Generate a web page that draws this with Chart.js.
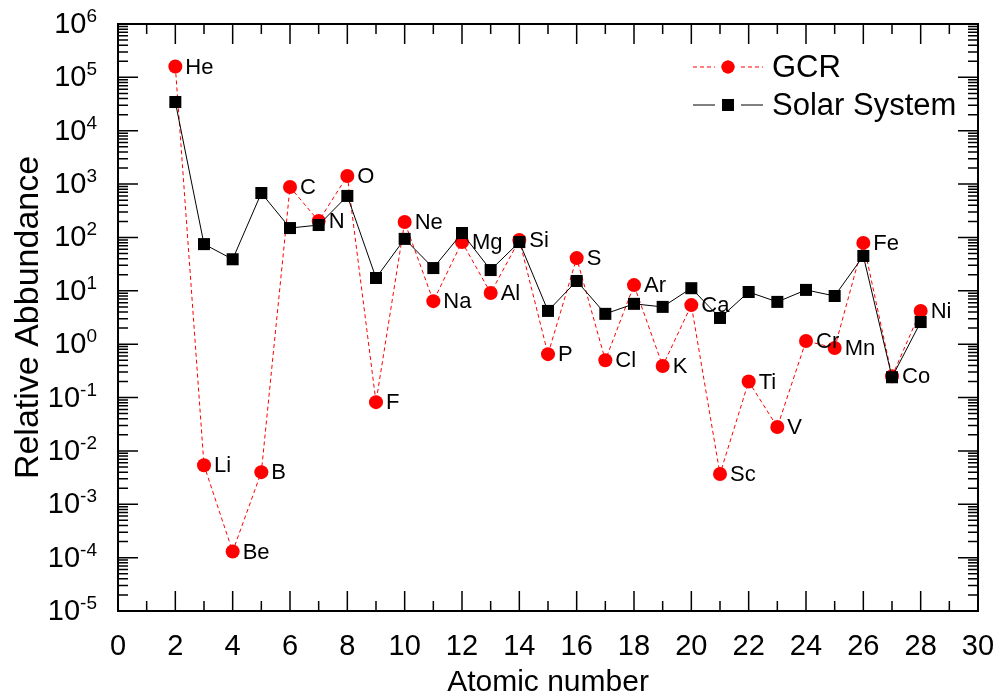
<!DOCTYPE html>
<html>
<head>
    <title>GCR vs Solar System abundance</title>
    <script src="https://cdn.jsdelivr.net/npm/chart.js"></script>
    <style>
        body { margin: 0; background: #fff; }
    </style>
</head>
<body>
    <canvas id="abundanceChart" width="998" height="700"></canvas>

    <script>
        const atomicNumbers = [2, 3, 4, 5, 6, 7, 8, 9, 10, 11, 12, 13, 14, 15, 16, 17, 18, 19, 20, 21, 22, 23, 24, 25, 26, 27, 28];
        const elements = ['He', 'Li', 'Be', 'B', 'C', 'N', 'O', 'F', 'Ne', 'Na', 'Mg', 'Al', 'Si', 'P', 'S', 'Cl', 'Ar', 'K', 'Ca', 'Sc', 'Ti', 'V', 'Cr', 'Mn', 'Fe', 'Co', 'Ni'];
        const gcrAbundance = [1.6e5, 5.4e-3, 1.3e-4, 4.0e-3, 880, 203, 1420, 0.082, 195, 6.4, 82, 9.1, 90, 0.65, 41, 0.50, 12.8, 0.39, 5.4, 3.7e-3, 0.20, 0.028, 1.15, 0.85, 79, 0.25, 4.2];
        const solarAbundance = [3.45e4, 75, 39, 680, 150, 171, 600, 17.4, 94, 26.7, 121, 24.5, 82, 4.2, 15.3, 3.7, 5.7, 5.0, 11.2, 3.1, 9.5, 6.2, 10.4, 8.0, 45, 0.24, 2.6];
        const xTickLabels = [0, 2, 4, 6, 8, 10, 12, 14, 16, 18, 20, 22, 24, 26, 28, 30];
        const yTickExponents = [-5, -4, -3, -2, -1, 0, 1, 2, 3, 4, 5, 6];

        const FONT = '"Liberation Sans", Arial, sans-serif';

        // frame, inward ticks, tick labels, titles, element names and legend
        const decorations = {
            id: 'decorations',
            afterDraw(chart) {
                const ctx = chart.ctx;
                const x = chart.scales.x;
                const y = chart.scales.y;
                const area = chart.chartArea;

                ctx.save();
                ctx.strokeStyle = '#000';
                ctx.lineWidth = 1.5;
                ctx.beginPath();
                for (let v = 0; v <= 30; v++) {
                    const px = x.getPixelForValue(v);
                    const len = v % 2 === 0 ? 20 : 10;
                    ctx.moveTo(px, area.bottom);
                    ctx.lineTo(px, area.bottom - len);
                    ctx.moveTo(px, area.top);
                    ctx.lineTo(px, area.top + len);
                }
                for (let e = -5; e <= 6; e++) {
                    for (let m = 1; m <= 9; m++) {
                        if (e === 6 && m > 1) break;
                        const py = y.getPixelForValue(m * Math.pow(10, e));
                        const len = m === 1 ? 20 : 10;
                        ctx.moveTo(area.left, py);
                        ctx.lineTo(area.left + len, py);
                        ctx.moveTo(area.right, py);
                        ctx.lineTo(area.right - len, py);
                    }
                }
                ctx.stroke();

                ctx.lineWidth = 2;
                ctx.strokeRect(area.left, area.top, area.right - area.left, area.bottom - area.top);

                // x tick labels
                ctx.fillStyle = '#000';
                ctx.font = '29px ' + FONT;
                ctx.textAlign = 'center';
                ctx.textBaseline = 'middle';
                xTickLabels.forEach(v => {
                    ctx.fillText(String(v), x.getPixelForValue(v), 647);
                });

                // y tick labels 10^n
                yTickExponents.forEach(e => {
                    const py = y.getPixelForValue(Math.pow(10, e));
                    ctx.font = '29px ' + FONT;
                    const w10 = ctx.measureText('10').width;
                    ctx.font = '19px ' + FONT;
                    const expText = e < 0 ? '-' + Math.abs(e) : String(e);
                    const wExp = ctx.measureText(expText).width;
                    const start = 97 - w10 - wExp;
                    ctx.textAlign = 'left';
                    ctx.textBaseline = 'middle';
                    ctx.font = '29px ' + FONT;
                    ctx.fillText('10', start, py + 1);
                    ctx.font = '19px ' + FONT;
                    ctx.textBaseline = 'alphabetic';
                    ctx.fillText(expText, start + w10, py - 2);
                });

                // axis titles
                ctx.font = '30px ' + FONT;
                ctx.textAlign = 'center';
                ctx.textBaseline = 'alphabetic';
                ctx.fillText('Atomic number', (area.left + area.right) / 2, 691);
                ctx.save();
                ctx.translate(38, (area.top + area.bottom) / 2);
                ctx.rotate(-Math.PI / 2);
                ctx.font = '34px ' + FONT;
                ctx.fillText('Relative Abbundance', 0, 0);
                ctx.restore();

                // element names next to the GCR points
                const meta = chart.getDatasetMeta(1);
                ctx.font = '22px ' + FONT;
                ctx.textAlign = 'left';
                ctx.textBaseline = 'middle';
                meta.data.forEach((pt, i) => {
                    ctx.fillText(elements[i], pt.x + 10, pt.y + 1);
                });

                // legend
                const rows = [
                    { label: 'GCR', y: 67, color: '#ff0000', dash: [4, 3], style: 'circle', r: 6.5 },
                    { label: 'Solar System', y: 105, color: '#000', dash: [], style: 'rect', r: 8.5 }
                ];
                rows.forEach(row => {
                    ctx.strokeStyle = row.color;
                    ctx.lineWidth = 1;
                    ctx.setLineDash(row.dash);
                    ctx.beginPath();
                    ctx.moveTo(693, row.y);
                    ctx.lineTo(715, row.y);
                    ctx.moveTo(741, row.y);
                    ctx.lineTo(763, row.y);
                    ctx.stroke();
                    ctx.setLineDash([]);
                    ctx.fillStyle = row.color;
                    Chart.helpers.drawPoint(ctx, { pointStyle: row.style, radius: row.r, borderWidth: 0 }, 728, row.y);
                    ctx.fill();
                    ctx.fillStyle = '#000';
                    ctx.font = '31px ' + FONT;
                    ctx.textBaseline = 'middle';
                    ctx.fillText(row.label, 772, row.y + 1);
                });
                ctx.restore();
            }
        };

        const ctx = document.getElementById('abundanceChart').getContext('2d');
        const abundanceChart = new Chart(ctx, {
            type: 'line',
            data: {
                datasets: [{
                    label: 'Solar System',
                    data: atomicNumbers.map((z, i) => ({ x: z, y: solarAbundance[i] })),
                    borderColor: '#000',
                    borderWidth: 1,
                    pointStyle: 'rect',
                    pointRadius: 8.5,
                    pointBackgroundColor: '#000',
                    pointBorderWidth: 0,
                    order: 0
                }, {
                    label: 'GCR',
                    data: atomicNumbers.map((z, i) => ({ x: z, y: gcrAbundance[i] })),
                    borderColor: '#ff0000',
                    borderWidth: 1,
                    borderDash: [4, 3],
                    pointStyle: 'circle',
                    pointRadius: 7,
                    pointBackgroundColor: '#ff0000',
                    pointBorderWidth: 0,
                    order: 1
                }]
            },
            options: {
                responsive: false,
                animation: false,
                layout: {
                    padding: { left: 118, right: 20, top: 24, bottom: 89 }
                },
                plugins: {
                    legend: { display: false },
                    tooltip: { enabled: false }
                },
                scales: {
                    x: { type: 'linear', min: 0, max: 30, display: false },
                    y: { type: 'logarithmic', min: 1e-5, max: 1e6, display: false }
                }
            },
            plugins: [decorations]
        });
    </script>
</body>
</html>
